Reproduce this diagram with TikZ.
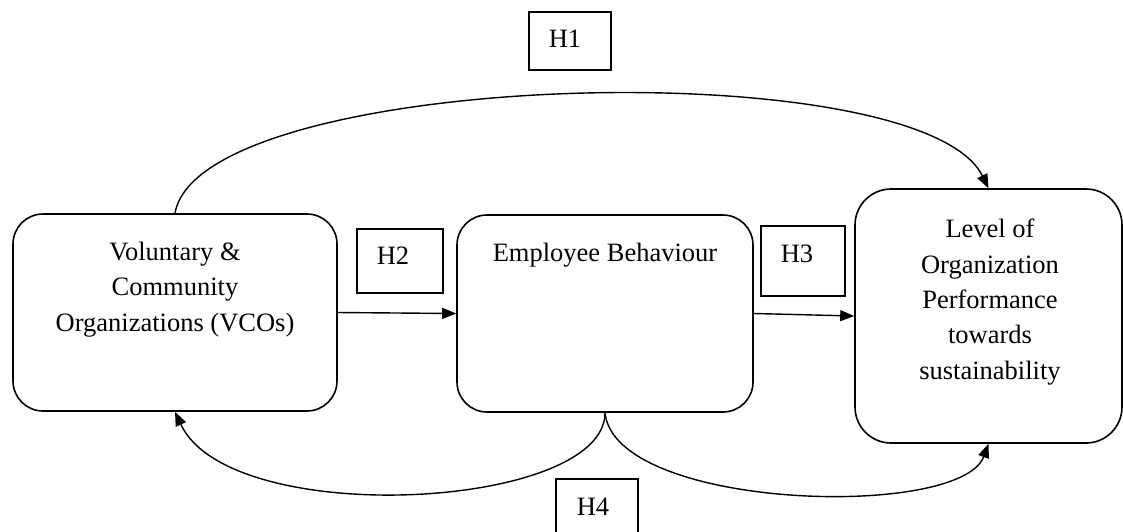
\documentclass[tikz,border=0pt]{standalone}
\usepackage{fontspec}
\setmainfont{Liberation Serif}
\usetikzlibrary{arrows.meta}
\begin{document}
\begin{tikzpicture}[x=1pt,y=-1pt,
  bigbox/.style={draw, line width=1.6pt, rounded corners=30pt, inner sep=0pt},
  hbox/.style={draw, line width=1.5pt, inner sep=0pt},
  txt/.style={inner sep=0pt, align=center, font=\fontsize{26.5}{35.3}\selectfont},
  conn/.style={line width=1.4pt, -{Triangle[length=14pt,width=11pt]}}]
\useasboundingbox (0,0) rectangle (1123,531);
% boxes
\node[bigbox, minimum width=324pt, minimum height=197pt] (vco) at (175,312.5) {};
\node[bigbox, minimum width=296pt, minimum height=197pt] (emp) at (605,313.5) {};
\node[bigbox, minimum width=267pt, minimum height=254pt, rounded corners=36pt] (perf) at (988.5,316) {};
\node[txt] (vcotext) at (175,289.5) {Voluntary \&\\Community\\Organizations (VCOs)};
\node[txt, anchor=base] (emptext) at (605,261) {Employee Behaviour};
\node[txt] (perftext) at (990,302) {Level of\\Organization\\Performance\\towards\\sustainability};
% hypothesis boxes
\node[hbox, minimum width=82pt, minimum height=58pt] (h1) at (570,41) {};
\node[hbox, minimum width=86pt, minimum height=64pt] (h2) at (400,261) {};
\node[hbox, minimum width=84pt, minimum height=70pt] (h3) at (803,261) {};
\node[hbox, minimum width=82pt, minimum height=62pt] (h4) at (597,510) {};
\node[txt] (h1t) at (565,39) {H1};
\node[txt] (h2t) at (393,256) {H2};
\node[txt] (h3t) at (797,253.5) {H3};
\node[txt] (h4t) at (593,506.5) {H4};
% connectors
\draw[conn] (vco.east) -- (emp.west);
\draw[conn] (emp.east) -- (perf.west);
\draw[conn] (vco.north) .. controls (200,70) and (920,50) .. (perf.north);
\draw[conn] (emp.south) .. controls (605,510) and (230,530) .. (vco.south);
\draw[conn] (emp.south) .. controls (615,510) and (960,520) .. (perf.south);
\end{tikzpicture}
\end{document}
